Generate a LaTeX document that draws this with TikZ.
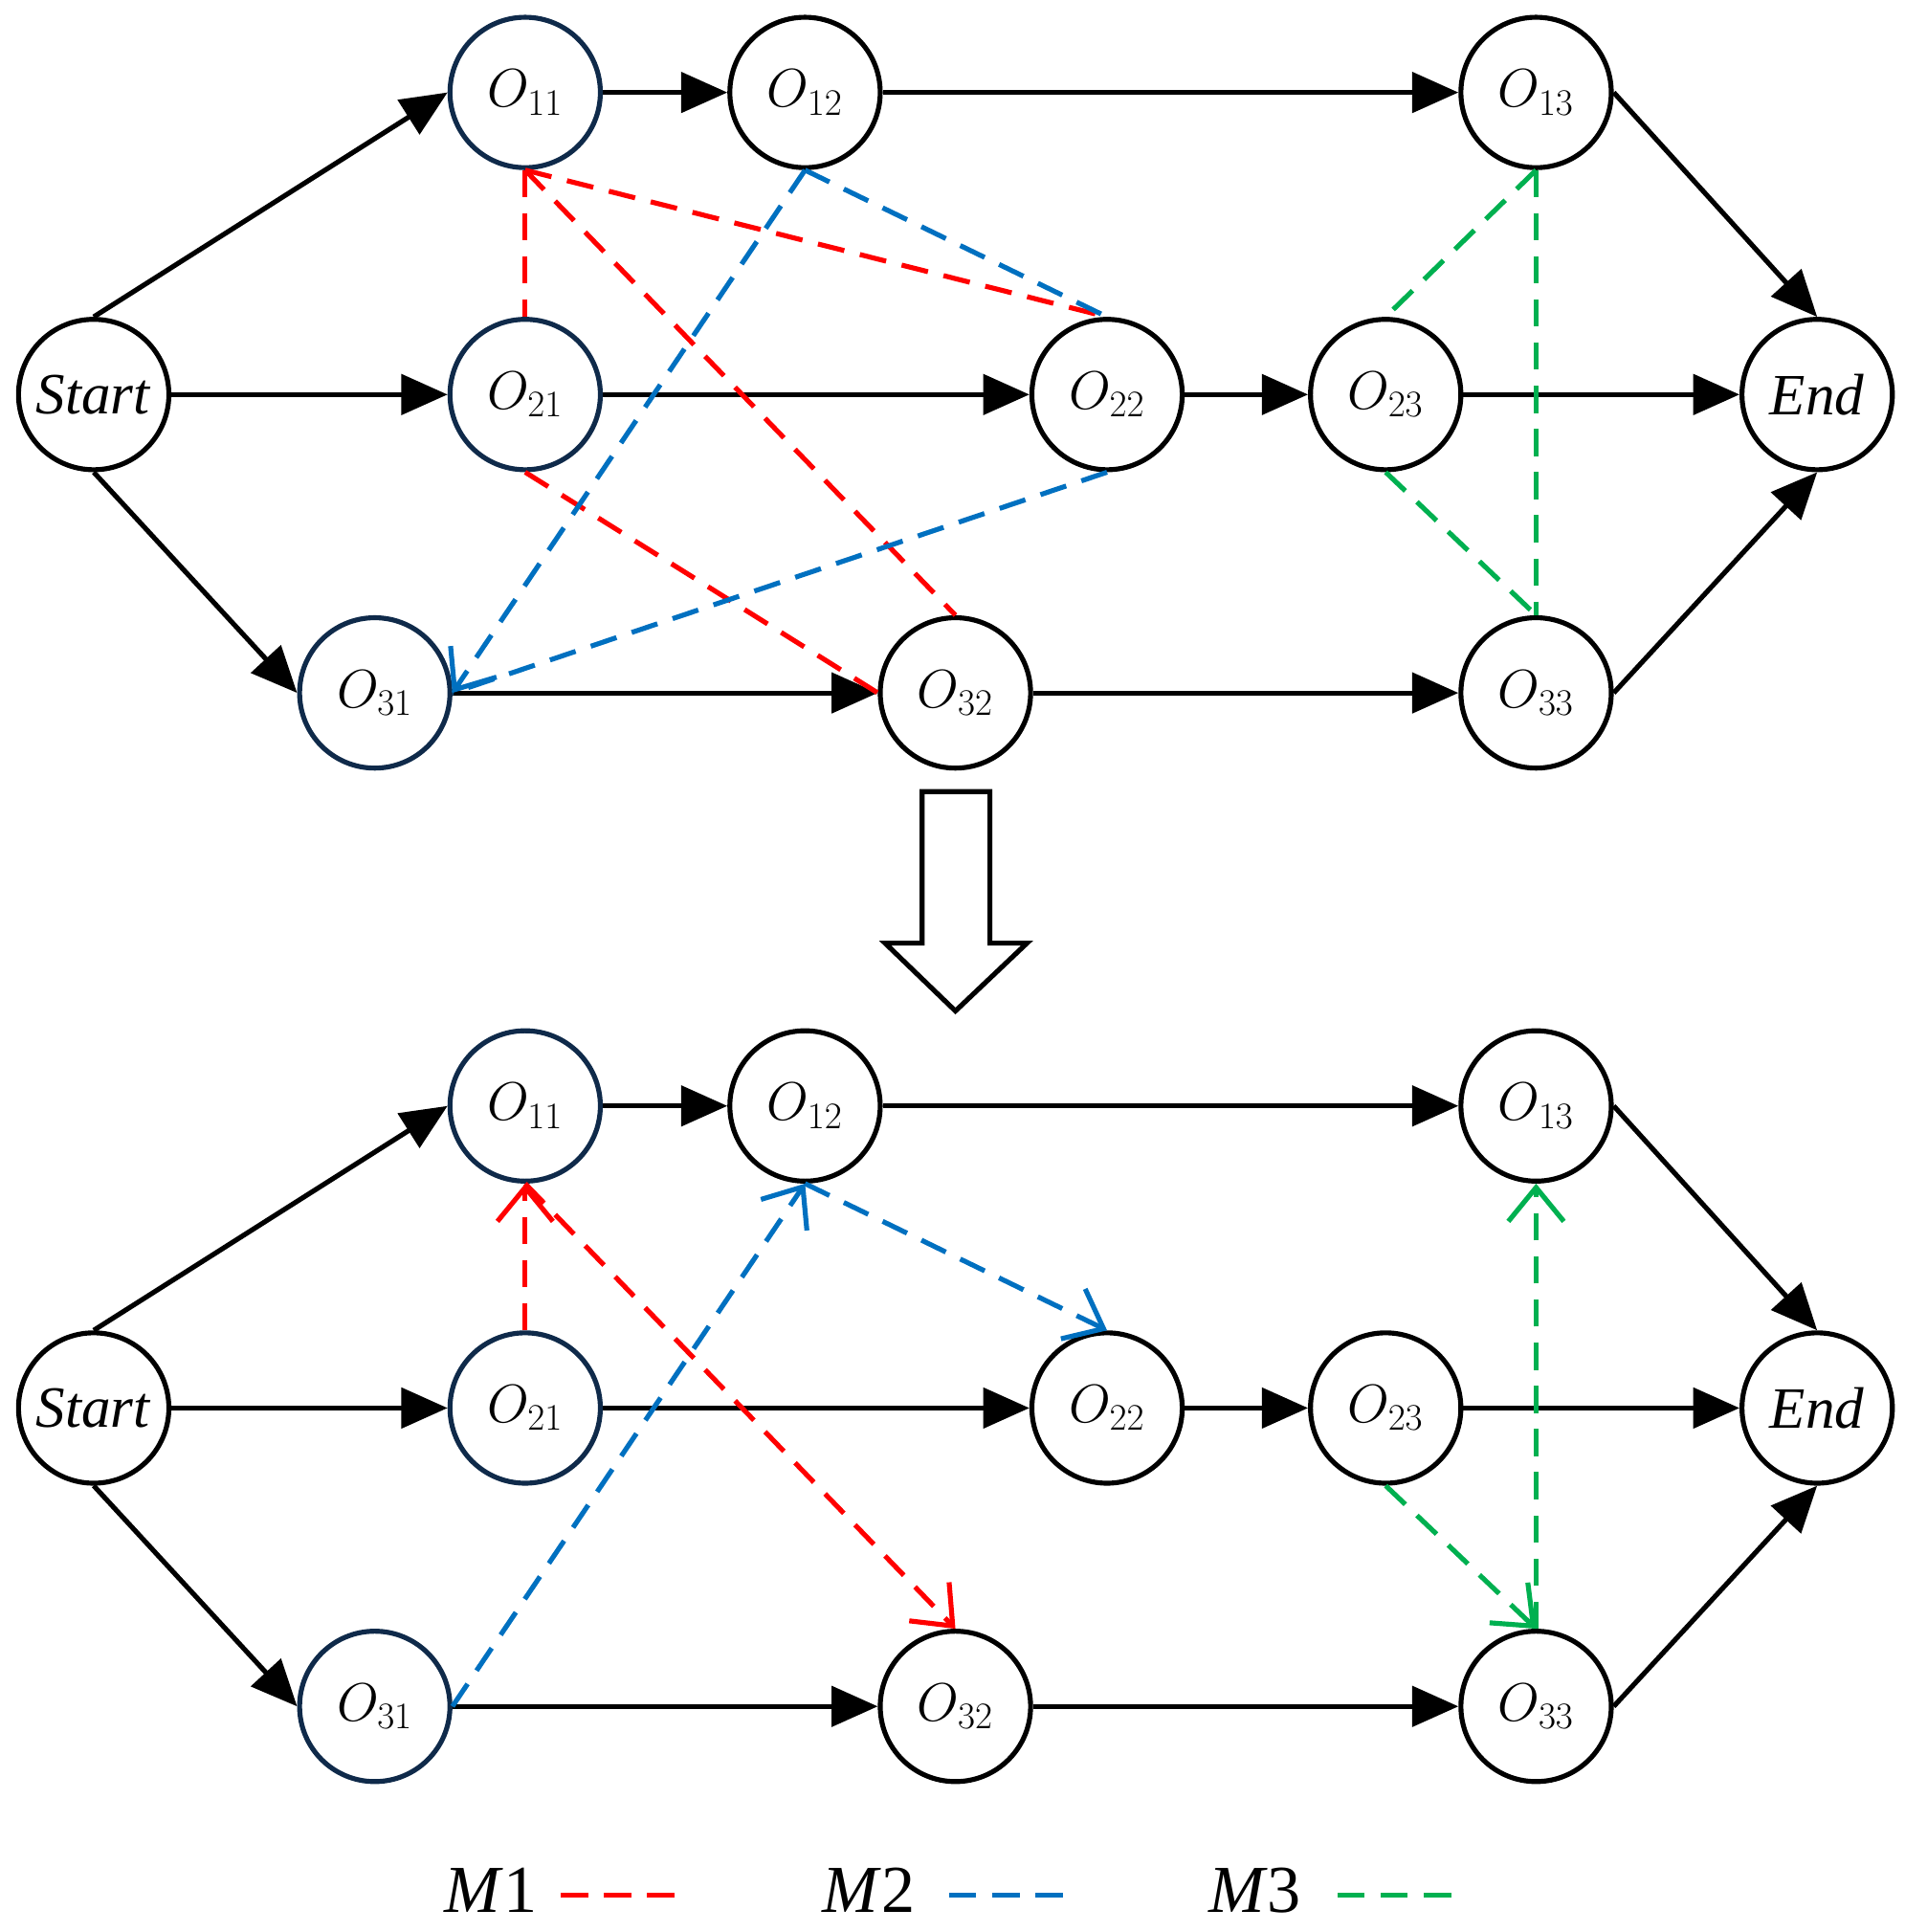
\documentclass[tikz,border=0pt]{standalone}
\usepackage{fontspec}
\setmainfont{Liberation Serif}
\usetikzlibrary{arrows.meta}
\definecolor{rr}{HTML}{FF0000}
\definecolor{bb}{HTML}{0070C0}
\definecolor{gg}{HTML}{00B050}
\definecolor{nv}{HTML}{0F2A4A}
\begin{document}
\begin{tikzpicture}[x=0.02cm,y=-0.02cm,
  nd/.style={circle,draw,line width=0.08cm,minimum size=2.44cm,inner sep=0pt,font=\fontsize{27}{32}\selectfont},
  nn/.style={nd,draw=nv},
  ar/.style={line width=0.08cm,-{Triangle[length=0.75cm,width=0.65cm]}},
  da/.style={line width=0.08cm,dash pattern=on 0.44cm off 0.26cm},
  oa/.style={da,-{Straight Barb[length=0.55cm,width=0.9cm,line width=0.08cm]}}]
\useasboundingbox (0,0) rectangle (1545,1567);
\foreach \s/\dy in {a/0,b/822}{
  \node[nd] (\s S) at (76,320+\dy) {\textit{Start}};
  \node[nn] (\s11) at (426,75+\dy) {$O_{11}$};
  \node[nd] (\s12) at (653,75+\dy) {$O_{12}$};
  \node[nd] (\s13) at (1246,75+\dy) {$O_{13}$};
  \node[nn] (\s21) at (426,320+\dy) {$O_{21}$};
  \node[nd] (\s22) at (898,320+\dy) {$O_{22}$};
  \node[nd] (\s23) at (1124,320+\dy) {$O_{23}$};
  \node[nd] (\s E) at (1474,320+\dy) {\textit{End}};
  \node[nn] (\s31) at (304,562+\dy) {$O_{31}$};
  \node[nd] (\s32) at (775,562+\dy) {$O_{32}$};
  \node[nd] (\s33) at (1246,562+\dy) {$O_{33}$};
  \draw[ar] (\s S.north) -- (\s11.west);
  \draw[ar] (\s S) -- (\s21);
  \draw[ar] (\s S.south) -- (\s31.west);
  \draw[ar] (\s11) -- (\s12);
  \draw[ar] (\s12) -- (\s13);
  \draw[ar] (\s13.east) -- (\s E.north);
  \draw[ar] (\s21) -- (\s22);
  \draw[ar] (\s22) -- (\s23);
  \draw[ar] (\s23) -- (\s E);
  \draw[ar] (\s31) -- (\s32);
  \draw[ar] (\s32) -- (\s33);
  \draw[ar] (\s33.east) -- (\s E.south);
}
% top dashed
\draw[da,rr] (a11.south) -- (a21.north);
\draw[da,rr] (a11.south) -- (a22.north);
\draw[da,rr] (a11.south) -- (a32.north);
\draw[da,rr] (a21.south) -- (a32.west);
\draw[da,bb] (a12.south) -- (a22.north);
\draw[oa,bb] (a12.south) -- (a31.east);
\draw[da,bb] (a22.south) -- (a31.east);
\draw[da,gg] (a13.south) -- (a23.north);
\draw[da,gg] (a13.south) -- (a33.north);
\draw[da,gg] (a23.south) -- (a33.north);
% bottom dashed
\draw[oa,rr] (b21.north) -- (b11.south);
\draw[oa,rr] (b11.south) -- (b32.north);
\draw[oa,bb] (b31.east) -- (b12.south);
\draw[oa,bb] (b12.south) -- (b22.north);
\draw[oa,gg] (b33.north) -- (b13.south);
\draw[oa,gg] (b23.south) -- (b33.north);
% hollow arrow
\draw[line width=0.08cm] (748,642) -- (803,642) -- (803,765) -- (833,765) -- (775,820) -- (718,765) -- (748,765) -- cycle;
% legend
\tikzset{lg/.style={font=\fontsize{31}{36}\selectfont}}
\node[lg] (l1) at (398,1533) {\textit{M}1};
\coordinate (l1a) at (455,1537); \coordinate (l1b) at (550,1537);
\draw[da,rr] (l1a) -- (l1b);
\node[lg] (l2) at (705,1533) {\textit{M}2};
\coordinate (l2a) at (770,1537); \coordinate (l2b) at (865,1537);
\draw[da,bb] (l2a) -- (l2b);
\node[lg] (l3) at (1018,1533) {\textit{M}3};
\coordinate (l3a) at (1085,1537); \coordinate (l3b) at (1180,1537);
\draw[da,gg] (l3a) -- (l3b);
\end{tikzpicture}
\end{document}
